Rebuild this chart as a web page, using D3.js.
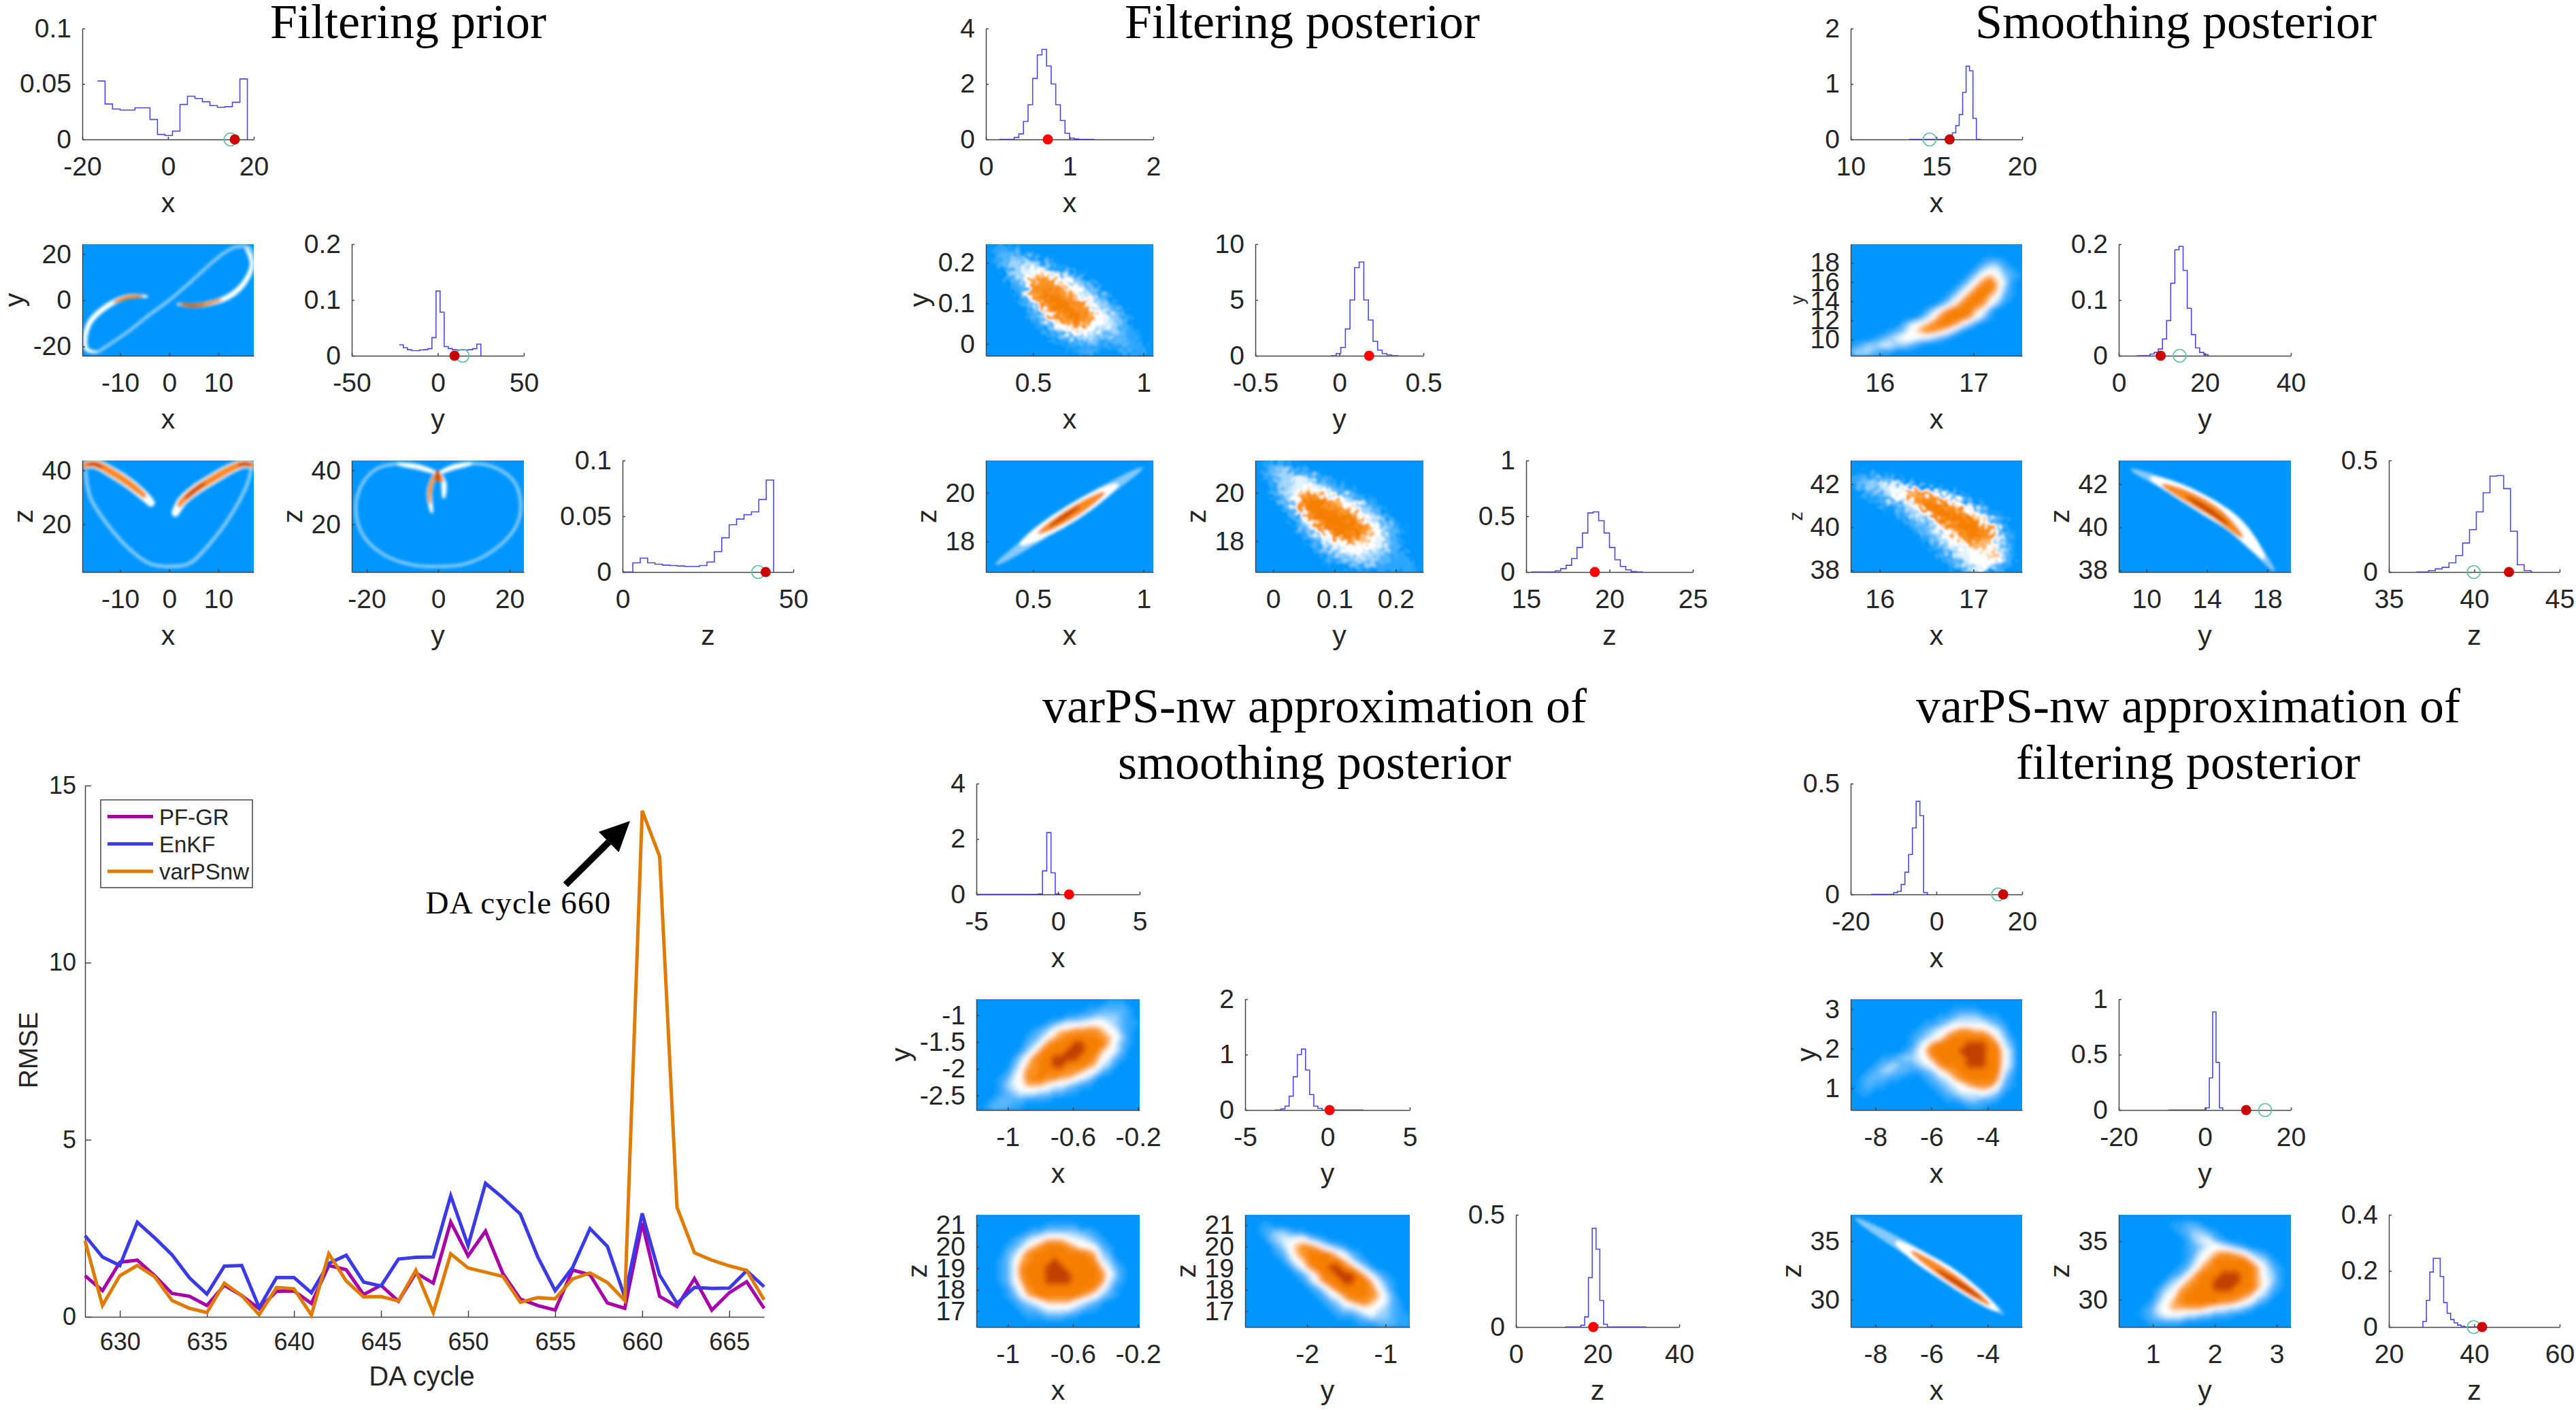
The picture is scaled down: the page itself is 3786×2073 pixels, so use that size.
<!DOCTYPE html>
<html><head><meta charset="utf-8">
<script src="https://cdn.jsdelivr.net/npm/d3@7"></script>
<style>html,body{margin:0;padding:0;background:#fff}svg{display:block}</style>
</head><body><svg id="chart" width="3786" height="2073"></svg>
<script>
// ---------- RMSE line chart ----------
const cycles = d3.range(628, 668);
const rmsePF = [1.16,.74,1.54,1.60,1.16,.66,.58,.32,.89,.60,.23,.72,.73,.38,1.45,1.33,.63,.89,.44,1.24,.95,2.68,1.72,2.42,1.22,.50,.32,.19,1.32,1.19,.39,.24,2.65,.58,.29,1.08,.19,.68,.99,.24];
const rmseEnKF = [2.29,1.69,1.45,2.67,2.23,1.75,1.10,.64,1.43,1.45,.26,1.11,1.11,.68,1.51,1.74,.98,.87,1.63,1.68,1.69,3.42,2.01,3.77,3.36,2.90,1.69,.74,1.39,2.49,1.99,.56,2.92,1.18,.38,.83,.80,.81,1.30,.85];
const rmseVar = [2.15,.32,1.16,1.45,1.13,.46,.24,.12,.95,.60,.06,.83,.79,.05,1.78,1.01,.56,.57,.45,1.31,.12,1.78,1.38,1.26,1.14,.41,.54,.51,1.07,1.24,.97,.46,14.29,13.0,3.09,1.81,1.60,1.44,1.31,.48];
const seriesNames = ["PF-GR","EnKF","varPSnw"];
const rmseTicksX = [630,635,640,645,650,655,660,665];
const rmseTicksY = [0,5,10,15];
const arrowFrom = [655.6,12.2], arrowTo = [659.3,14.0];

// ---------- histogram bin heights ----------
const hPriorX = [.0527,.032,.0275,.0265,.0265,.0285,.0285,.018,.0045,.0035,.0075,.0315,.039,.037,.034,.0305,.029,.0295,.0335,.0545];
const hPriorY = [.0195,.0143,.0108,.0091,.0091,.0104,.0108,.0126,.0325,.116,.078,.0165,.013,.0108,.0104,.0104,.0104,.0108,.0126,.0208];
const hPriorZ = [.0082,.0125,.0082,.007,.0062,.0058,.0054,.005,.005,.0058,.009,.0183,.0307,.0424,.0475,.0514,.054,.065,.0825];
const hFiltX = [.07,.2,.65,1.25,2.2,3.05,3.25,2.65,2.0,1.25,.68,.22,.05,.02];
const hFiltY = [.2,.75,2.4,5.0,7.9,8.4,5.0,3.2,1.3,.5,.2,.08];
const hFiltZ = [.01,.03,.06,.12,.22,.35,.53,.54,.46,.35,.22,.11,.05,.02,.005];
const hSmoothX = [.08,.12,.25,.45,.85,1.32,1.24,.38];
const hSmoothY = [.003,.006,.012,.03,.063,.13,.19,.196,.153,.085,.038,.014,.006,.002];
const hSmoothZ = [.006,.014,.021,.041,.074,.13,.19,.27,.355,.43,.432,.374,.183,.033,.006];
const hVarSmX = [.02,.85,2.23,.78,.02];
const hVarSmY = [.02,.07,.25,.6,1.0,1.1,.72,.28,.07,.03];
const hVarSmZ = [.008,.045,.22,.44,.347,.118,.012];
const hVarFiX = [.008,.014,.045,.1,.18,.3,.42,.355,.008];
const hVarFiY = [.02,.29,.885,.43,.02];
const hVarFiZ = [.02,.095,.196,.245,.245,.18,.087,.049,.027,.015,.007,.003];

// ---------- 2-D density (0 = none … 9 = highest) ----------
const gFiltXY = ["011100000000000000000000","012221100000000000000000","012333321100000000000000","001334443211000000000000","000234566543210000000000","000123677765432100000000","000012778776543210000000","000012678887654321000000","000001367888776432100000","000000236788877543210000","000000123677887654321000","000000012356777544321000","000000001234554433321100","000000000112333322221100","000000000001112211122110","000000000000011100011110"];
const gFiltYZ = ["012210000000000000000000","012332110000000000000000","012334432110000000000000","001334454321100000000000","001234665543211000000000","000234788766432110000000","000123788877654321000000","000012678888776432100000","000001357888887543210000","000000236788888764321000","000000123568888765321000","000000012345676654421000","000000001234455544321000","000000000123344433221100","000000000011223332211110","000000000000011111111110"];
const gSmoothXY = ["000000000000000000000000","000000000000000000000000","000000000000000000122100","000000000000000001344210","000000000000000013565321","000000000000000135786410","000000000000001357886310","000000000000013578865210","000000000000135788753100","000000000013578886520000","000000000135788875310000","000000024567887531000000","000001235677653100000000","000123455443210000000000","123344332100000000000000","333211000000000000000000"];
const gSmoothXZ = ["000000000000000000000000","000000000000000000000000","122221100000000000000000","123344432100000000000000","012234567654321000000000","001123446787654210000000","000011234688876542100000","000000123458888765310000","000000012334788887532100","000000001223567888763100","000000000123456788875210","000000000012345677664210","000000000001234456654310","000000000000123445566310","000000000000012345554210","000000000000001234432100"];
const gVarSmXY = ["000000000000000000011100","000000000000000011222210","000000000000011223333210","000000000012344455543211","000000001235667777654210","000000012356788888765310","000000023578889988864210","000000135788899988654200","000001357889999887542100","000002467889988876431000","000013577888877654210000","000124578877665431000000","000134566654432110000000","000123444332211000000000","001222211110000000000000","012221100000000000000000"];
const gVarSmXZ = ["000000000000000000000000","000000000011111000000000","000000012233333221000000","000001234566654432100000","000012356788876554210000","000023578888888876320000","000124678889888887431000","000124788899988888642100","000124788899998888753100","000124688899998888742100","000013578888888887531000","000012467888888765321000","000001234566665432100000","000000122344443211000000","000000011122211000000000","000000000000000000000000"];
const gVarSmYZ = ["000000000000000000000000","001100000000000000000000","001233211000000000000000","000234455321000000000000","000023567764321000000000","000012467888754210000000","000001356888886421000000","000000135788998753100000","000000012468899986421000","000000001357889988642100","000000000124688888753100","000000000012457888764200","000000000001235677654210","000000000000123345543210","000000000000011123433211","000000000000000011122211"];
const gVarFiXY = ["000000000000000000000000","000000000000001111000000","000000000000112333211000","000000000011234444432100","000000000123456776654200","000000001234578888875310","000000001357888899987420","000000012468888999988530","000011233457888899988530","000123322345788899988530","001233221123567888888420","012221100012346788887310","012110000001234567775210","011000000000123444543100","000000000000011233221000","000000000000000011100000"];
const gVarFiYZ = ["000000000000000000000000","000000011221000000000000","000000001233210000000000","000000000134421000000000","000000000123454321000000","000000000124567765321000","000000000135688888643100","000000001246788888864210","000000012468889998864310","000000134678899998865310","000001346788899988864210","000002457888888887643100","000013567888887765421000","000124566666544332100000","000123444332211100000000","000011111000000000000000"];

// ---------- ridge lines of the thin densities, in axis units ----------
const rPriorXYRing = [[-14.55,-22.43],[-8.36,-13.55],[-4.02,-6.23],[0,.04],[4.02,7.36],[8.36,15.73],[11.46,20.95],[13.93,23.25],[16.41,22.52],[16.84,15.73],[15.17,7.36],[12.07,1.6],[7.74,-1.52],[4.64,-2.25],[1.55,-1.52]];
const rPriorXYLeft = [[-4.33,1.61],[-8.36,1.61],[-12.69,-2.57],[-16.1,-9.36],[-17.15,-16.68],[-16.72,-21.39],[-14.55,-22.43]];
const rPriorXYWhiteR = [[15.4,23.3],[16.84,15.73],[15.17,7.36],[12.07,1.6],[7.74,-1.52],[4.64,-2.25],[1.55,-1.52]];
const rPriorXYOrangeR = [[10.8,.6],[7.74,-1.52],[4.64,-2.25],[1.9,-1.52]];
const rPriorXYCoreR = [[7.1,-1.9],[4.64,-2.25],[2.5,-1.8]];
const rPriorXYOrangeL = [[-11.46,-1.0],[-8.36,1.4],[-5.26,1.8]];
const rPriorXZBottom = [[-17.03,39.94],[-16.1,30.08],[-12.69,20.22],[-8.36,11.26],[-4.02,5.44],[0,4.36],[4.02,5.44],[8.36,13.05],[12.69,23.81],[15.79,34.56],[16.72,40.83]];
const rPriorXZLeft = [[-17.9,41.6],[-15.17,42.36],[-11.46,39.04],[-7.74,34.56],[-4.33,29.18],[-3.2,26.8]];
const rPriorXZLeftOr = [[-18,41.6],[-15.17,42.36],[-11.46,39.04],[-7.74,34.56],[-4.7,30]];
const rPriorXZRight = [[.9,22.8],[2.48,28.29],[5.26,32.77],[8.36,36.35],[12.69,40.83],[15.17,42.45],[17.6,41.7]];
const rPriorXZRightOr = [[1.8,26.2],[2.48,28.29],[5.26,32.77],[8.36,36.35],[12.69,40.83],[15.17,42.45],[17.6,41.7]];
const rPriorXZCoreL = [[-16.7,41.9],[-15.17,42.36],[-13.6,41]];
const rPriorXZCoreR = [[3.2,29.5],[5.26,32.77],[7.4,35.4]];
const rPriorXZCoreR2 = [[14,41.8],[15.17,42.45],[16.7,41.9]];
const rPriorYZRing = [[-.34,39.04],[-5.68,41.28],[-11.6,42.45],[-17.54,40.38],[-21.78,33.66],[-23.05,24.7],[-20.93,15.74],[-15,8.57],[-7.37,4.99],[0,4.36],[7.88,5.44],[15.5,10.37],[21.44,18.43],[23.14,26.5],[21.44,35.46],[16.36,40.83],[9.58,42.62],[4.49,41.28],[1.1,39.04]];
const rPriorYZTopL = [[-11.6,42.45],[-5.68,41.28],[-.34,39.04]];
const rPriorYZTopR = [[.2,39.04],[4.49,41.28],[9.58,42.62]];
const rPriorYZLegL = [[-.1,40],[-1.86,35.46],[-2.46,30.98],[-1.69,24]];
const rPriorYZLegR = [[.3,39],[1.53,35.46],[1.53,29.5]];
const rPriorYZOrL = [[-.34,39.04],[-1.86,35.46],[-2.46,30.98],[-2.3,27.5]];
const rPriorYZOrR = [[.2,39],[1.2,35.5]];
const rPriorYZCore = [[-.2,40.2],[-.2,35.8]];
const rFiltXZHalo = [[.327,17.02],[.52,18.23],[.655,19.12],[.828,20.09],[.999,21.05]];
const rFiltXZWhite = [[.438,17.85],[.52,18.31],[.663,19.1],[.826,20.03],[.887,20.36]];
const rFiltXZOrange = [[.52,18.31],[.663,19.1],[.826,20.03]];
const rFiltXZCore = [[.571,18.6],[.714,19.47]];
const rSmoothYZHalo = [[8.9,42.7],[11.26,42],[13.92,41],[15.83,40.1],[17.16,39.1],[18.5,37.92]];
const rSmoothYZWhite = [[10.2,42.3],[11.26,42],[13.92,41],[15.83,40.1],[17.16,39.1],[17.8,38.5]];
const rSmoothYZOrange = [[11.0,42.0],[12.78,41.4],[14.69,40.6],[16.4,39.5]];
const rSmoothYZCore = [[12.6,41.45],[14.1,40.8],[15.46,40.1]];
const rVarFiXZHalo = [[-8.74,37.0],[-6.75,34.2],[-5.46,32.2],[-3.4,28.7]];
const rVarFiXZWhite = [[-7.3,35.0],[-6.55,33.8],[-5.46,32.2],[-3.6,29.0]];
const rVarFiXZOrange = [[-6.75,34.2],[-5.26,31.8],[-3.9,29.5]];
const rVarFiXZCore = [[-5.85,32.6],[-4.2,30.1]];

// ---------- truth markers ----------
const dots = {prior:[15.57,9.7,41.9],filt:[.74,.177,19.12],smooth:[15.77,9.74,42.03],varSm:[.68,.13,18.94],varFi:[15.57,9.6,41.83]};
const rings = {prior:[14.56,14.4,39.7],smooth:[14.6,14.15,39.97],varFi:[14.4,14.0,39.87]};

// ---------- text ----------
const titles = [
 {lines:["Filtering prior"],cx:600,y:[56]},
 {lines:["Filtering posterior"],cx:1914,y:[56]},
 {lines:["Smoothing posterior"],cx:3198,y:[56]},
 {lines:["varPS-nw approximation of","smoothing posterior"],cx:1932,y:[1062,1145]},
 {lines:["varPS-nw approximation of","filtering posterior"],cx:3216,y:[1062,1145]}];

// ---------- layout ----------
const rowsTop = [[42,205],[359,523],[677,841]], rowsLow = [[1152,1315],[1469,1632],[1786,1951]];
const colsA = [[121,373],[517,770],[915,1166]], colsB = [[1449,1695],[1845,2092],[2243,2488]];
const colsC = [[2720,2972],[3114,3367],[3511,3762]], colsD = [[1435,1675],[1830,2072],[2228,2468]];

const svg = d3.select("#chart");
const defs = svg.append("defs");
function blurF(id,sd){ defs.append("filter").attr("id",id).attr("x","-20%").attr("y","-20%").attr("width","140%").attr("height","140%")
  .append("feGaussianBlur").attr("stdDeviation",sd); }
blurF("soft",3.0); blurF("thin",1.9);
const sp = defs.append("filter").attr("id","speckle").attr("x","-20%").attr("y","-20%").attr("width","140%").attr("height","140%");
sp.append("feTurbulence").attr("type","fractalNoise").attr("baseFrequency",.14).attr("numOctaves",1).attr("seed",7).attr("result","n");
sp.append("feDisplacementMap").attr("in","SourceGraphic").attr("in2","n").attr("scale",30).attr("xChannelSelector","R").attr("yChannelSelector","G").attr("result","d");
sp.append("feGaussianBlur").attr("in","d").attr("stdDeviation",1.7);

const ink = "#262626", axisInk = "#444";
const heat = d3.scaleLinear().domain([0,2,4.4,5.1,5.7,6.5,8,9]).range(["#0096ff","#58b6ff","#ffffff","#ffffff","#ffc88f","#fb9a2e","#f57f06","#c23f00"]);
const ridgeColor = {faint:"#8fceff",halo:"#86c9ff",white:"#ffffff",orange:"#f88a12",core:"#cf4e00"};
let clipId = 0;

function axes(g,x,y,xt,yt,opt){
  opt = opt||{};
  const tick = opt.tick||4, padX = opt.padX||25, padY = opt.padY||16, fs = opt.fs||39;
  const ax = g.append("g").attr("transform",`translate(0,${y.range()[0]})`)
    .call(d3.axisBottom(x).tickValues(xt).tickFormat(d=>String(d)).tickSizeInner(-tick).tickSizeOuter(0).tickPadding(padX));
  const ay = g.append("g").attr("transform",`translate(${x.range()[0]},0)`)
    .call(d3.axisLeft(y).tickValues(yt).tickFormat(d=>String(d)).tickSizeInner(-tick).tickSizeOuter(0).tickPadding(padY));
  [ax,ay].forEach(a=>{
    a.attr("font-family","'Liberation Sans'").attr("font-size",fs);
    a.selectAll("path,line").attr("stroke",axisInk).attr("stroke-width",1.5);
    a.selectAll("text").attr("fill",ink);
  });
}
function labels(g,x,y,xl,yl,yt,opt){
  opt = opt||{};
  const mx = (x.range()[0]+x.range()[1])/2;
  g.append("text").attr("x",mx).attr("y",y.range()[0]+107).attr("text-anchor","middle")
    .attr("font-family","'Liberation Sans'").attr("font-size",41).attr("fill",ink).text(xl);
  if(!yl) return;
  const wide = d3.max(yt,d=>String(d).replace(/[0-9]/g,"#").split("").reduce((s,c)=>s+(c==="#"?.556:c==="."?.278:.333),0))*39;
  const lx = x.range()[0]-(opt.yOff||(16+wide+26));
  const my = (y.range()[0]+y.range()[1])/2;
  g.append("text").attr("transform",`translate(${lx},${my}) rotate(-90)`).attr("dy",".3em").attr("text-anchor","middle")
    .attr("font-family","'Liberation Sans'").attr("font-size",opt.yFs||41).attr("fill",ink).text(yl);
}
function hist(col,row,p){
  const x = d3.scaleLinear().domain(p.xd).range(col), y = d3.scaleLinear().domain(p.yd).range([row[1],row[0]]);
  const g = svg.append("g");
  const pts = [], hi = p.lo+p.w*p.v.length;
  if(p.sup) pts.push([p.sup[0],0],[p.lo,0]);
  p.v.forEach((v,i)=>{pts.push([p.lo+i*p.w,v],[p.lo+(i+1)*p.w,v]);});
  pts.push([hi,0]);
  if(p.sup) pts.push([p.sup[1],0]);
  g.append("path").attr("d",d3.line().x(d=>x(d[0])).y(d=>y(d[1]))(pts)).attr("fill","none").attr("stroke","#4a4af0").attr("stroke-width",1.6);
  axes(g,x,y,p.xt,p.yt);
  if(p.ring!=null) g.append("circle").attr("cx",x(p.ring)).attr("cy",y(0)).attr("r",9.5).attr("fill","none").attr("stroke","#5cc0a0").attr("stroke-width",1.7);
  g.append("circle").attr("cx",x(p.dot)).attr("cy",y(0)).attr("r",7.5).attr("fill",p.ring!=null?"#cc0000":"#ff0000");
  labels(g,x,y,p.xl,null,p.yt);
}
function panelBase(col,row,p){
  const x = d3.scaleLinear().domain(p.xd).range(col), y = d3.scaleLinear().domain(p.yd).range([row[1],row[0]]);
  const g = svg.append("g"), id = "c"+(clipId++);
  defs.append("clipPath").attr("id",id).append("rect").attr("x",col[0]).attr("y",row[0]).attr("width",col[1]-col[0]).attr("height",row[1]-row[0]);
  const inner = g.append("g").attr("clip-path",`url(#${id})`);
  inner.append("rect").attr("x",col[0]).attr("y",row[0]).attr("width",col[1]-col[0]).attr("height",row[1]-row[0]).attr("fill","#0096ff");
  return {x,y,g,inner};
}
function gridPanel(col,row,p){
  const {x,y,g,inner} = panelBase(col,row,p);
  const m = p.grid.length, n = p.grid[0].length;
  const vals = p.grid.join("").split("").map(Number);
  const gx = d3.scaleLinear().domain([0,n]).range(p.xd), gy = d3.scaleLinear().domain([0,m]).range([p.yd[1],p.yd[0]]);
  const proj = d3.geoTransform({point(a,b){this.stream.point(x(gx(a)),y(gy(b)));}});
  const path = d3.geoPath(proj);
  const cs = d3.contours().size([n,m]).smooth(true).thresholds(d3.range(.25,9.01,.25))(vals);
  inner.append("g").attr("filter",p.speckle?"url(#speckle)":"url(#soft)").selectAll("path").data(cs).join("path")
    .attr("d",path).attr("fill",d=>heat(d.value));
  axes(g,x,y,p.xt,p.yt);
  labels(g,x,y,p.xl,p.yl,p.yt,p);
}
// a band drawn along a ridge line; taper sets how quickly it narrows towards its two ends
function lens(pts,x,y,width,holder,taper){
  const d = d3.line().x(q=>x(q[0])).y(q=>y(q[1])).curve(d3.curveCatmullRom.alpha(.5))(pts);
  const probe = holder.append("path").attr("d",d).attr("fill","none").attr("stroke","none");
  const node = probe.node(), L = node.getTotalLength(), N = 48, left = [], right = [];
  d3.range(N+1).forEach(i=>{
    const t = i/N, s = t*L, a = node.getPointAtLength(Math.max(0,s-1)), b = node.getPointAtLength(Math.min(L,s+1)), c = node.getPointAtLength(s);
    const len = Math.hypot(b.x-a.x,b.y-a.y)||1, nx = -(b.y-a.y)/len, ny = (b.x-a.x)/len;
    const hw = width/2*Math.pow(Math.sin(Math.PI*t),taper);
    left.push([c.x+nx*hw,c.y+ny*hw]); right.push([c.x-nx*hw,c.y-ny*hw]);
  });
  probe.remove();
  return d3.line()(left.concat(right.reverse()))+"Z";
}
function ridgePanel(col,row,p){
  const {x,y,g,inner} = panelBase(col,row,p);
  const line = d3.line().x(d=>x(d[0])).y(d=>y(d[1])).curve(d3.curveCatmullRom.alpha(.5));
  const layer = inner.append("g").attr("filter","url(#thin)");
  p.layers.forEach(l=>{
    if(l[0]==="faint") layer.append("path").attr("d",line(l[1])).attr("fill","none").attr("stroke",ridgeColor.faint).attr("stroke-width",p.widths.faint);
    else layer.append("path").attr("d",lens(l[1],x,y,p.widths[l[0]],layer,p.taper||.5)).attr("fill",ridgeColor[l[0]]);
  });
  axes(g,x,y,p.xt,p.yt);
  labels(g,x,y,p.xl,p.yl,p.yt,p);
}

// ---------- Filtering prior ----------
hist(colsA[0],rowsTop[0],{v:hPriorX,lo:-16.45,w:1.7475,xd:[-20,20],yd:[0,.1],xt:[-20,0,20],yt:[0,.05,.1],dot:dots.prior[0],ring:rings.prior[0],xl:"x"});
hist(colsA[1],rowsTop[1],{v:hPriorY,lo:-22.4,w:2.37,xd:[-50,50],yd:[0,.2],xt:[-50,0,50],yt:[0,.1,.2],dot:dots.prior[1],ring:rings.prior[1],xl:"y"});
hist(colsA[2],rowsTop[2],{v:hPriorZ,lo:3,w:2.17,sup:[0,44.2],xd:[0,50],yd:[0,.1],xt:[0,50],yt:[0,.05,.1],dot:dots.prior[2],ring:rings.prior[2],xl:"z"});
const wPrior = {faint:4.5,white:8,orange:6,core:4};
ridgePanel(colsA[0],rowsTop[1],{taper:.3,xd:[-17.7,17.2],yd:[-24,24.3],xt:[-10,0,10],yt:[-20,0,20],xl:"x",yl:"y",widths:wPrior,
  layers:[["faint",rPriorXYRing],["faint",rPriorXYLeft],["white",rPriorXYWhiteR],["white",rPriorXYLeft],["orange",rPriorXYOrangeR],["orange",rPriorXYOrangeL],["core",rPriorXYCoreR]]});
ridgePanel(colsA[0],rowsTop[2],{taper:.18,xd:[-17.7,17.2],yd:[2.3,43.7],xt:[-10,0,10],yt:[20,40],xl:"x",yl:"z",widths:{faint:5,white:16,orange:11,core:6},
  layers:[["faint",rPriorXZBottom],["white",rPriorXZLeft],["white",rPriorXZRight],["orange",rPriorXZLeftOr],["orange",rPriorXZRightOr],["core",rPriorXZCoreL],["core",rPriorXZCoreR],["core",rPriorXZCoreR2]]});
ridgePanel(colsA[1],rowsTop[2],{taper:.3,xd:[-24.2,24],yd:[2.3,43.7],xt:[-20,0,20],yt:[20,40],xl:"y",yl:"z",widths:{faint:4.5,white:8,orange:6,core:8},
  layers:[["faint",rPriorYZRing],["white",rPriorYZTopL],["white",rPriorYZTopR],["white",rPriorYZLegL],["white",rPriorYZLegR],["orange",rPriorYZOrL],["orange",rPriorYZOrR],["core",rPriorYZCore]]});

// ---------- Filtering posterior ----------
hist(colsB[0],rowsTop[0],{v:hFiltX,lo:.338,w:.0552,sup:[.16,1.3],xd:[0,2],yd:[0,4],xt:[0,1,2],yt:[0,2,4],dot:dots.filt[0],xl:"x"});
hist(colsB[1],rowsTop[1],{v:hFiltY,lo:-.019,w:.0274,sup:[-.05,.35],xd:[-.5,.5],yd:[0,10],xt:[-.5,0,.5],yt:[0,5,10],dot:dots.filt[1],xl:"y"});
hist(colsB[2],rowsTop[2],{v:hFiltZ,lo:16.75,w:.325,sup:[15.3,22],xd:[15,25],yd:[0,1],xt:[15,20,25],yt:[0,.5,1],dot:dots.filt[2],xl:"z"});
gridPanel(colsB[0],rowsTop[1],{grid:gFiltXY,speckle:true,xd:[.286,1.044],yd:[-.029,.2457],xt:[.5,1],yt:[0,.1,.2],xl:"x",yl:"y"});
ridgePanel(colsB[0],rowsTop[2],{xd:[.286,1.044],yd:[16.74,21.33],xt:[.5,1],yt:[18,20],xl:"x",yl:"z",widths:{halo:20,white:25,orange:16,core:7},
  layers:[["halo",rFiltXZHalo],["white",rFiltXZWhite],["orange",rFiltXZOrange],["core",rFiltXZCore]]});
gridPanel(colsB[1],rowsTop[2],{grid:gFiltYZ,speckle:true,xd:[-.029,.245],yd:[16.74,21.33],xt:[0,.1,.2],yt:[18,20],xl:"y",yl:"z"});

// ---------- Smoothing posterior ----------
hist(colsC[0],rowsTop[0],{v:hSmoothX,lo:15.73,w:.2,sup:[13.4,17.6],xd:[10,20],yd:[0,2],xt:[10,15,20],yt:[0,1,2],dot:dots.smooth[0],ring:rings.smooth[0],xl:"x"});
hist(colsC[1],rowsTop[1],{v:hSmoothY,lo:7.27,w:.96,sup:[4.2,21],xd:[0,40],yd:[0,.2],xt:[0,20,40],yt:[0,.1,.2],dot:dots.smooth[1],ring:rings.smooth[1],xl:"y"});
hist(colsC[2],rowsTop[2],{v:hSmoothZ,lo:37.32,w:.4,sup:[36.6,43.4],xd:[35,45],yd:[0,.5],xt:[35,40,45],yt:[0,.5],dot:dots.smooth[2],ring:rings.smooth[2],xl:"z"});
gridPanel(colsC[0],rowsTop[1],{grid:gSmoothXY,xd:[15.69,17.52],yd:[8.33,19.94],xt:[16,17],yt:[10,12,14,16,18],xl:"x",yl:"y",yFs:27,yOff:77});
gridPanel(colsC[0],rowsTop[2],{grid:gSmoothXZ,speckle:true,xd:[15.69,17.52],yd:[37.92,43.1],xt:[16,17],yt:[38,40,42],xl:"x",yl:"z",yFs:27,yOff:79});
ridgePanel(colsC[1],rowsTop[2],{xd:[8.17,19.55],yd:[37.92,43.1],xt:[10,14,18],yt:[38,40,42],xl:"y",yl:"z",widths:{halo:20,white:27,orange:18,core:8},
  layers:[["halo",rSmoothYZHalo],["white",rSmoothYZWhite],["orange",rSmoothYZOrange],["core",rSmoothYZCore]]});

// ---------- varPS-nw, smoothing ----------
hist(colsD[0],rowsLow[0],{v:hVarSmX,lo:-1.21,w:.26,sup:[-5,.1],xd:[-5,5],yd:[0,4],xt:[-5,0,5],yt:[0,2,4],dot:dots.varSm[0],xl:"x"});
hist(colsD[1],rowsLow[1],{v:hVarSmY,lo:-2.83,w:.25,sup:[-3.2,2.2],xd:[-5,5],yd:[0,2],xt:[-5,0,5],yt:[0,1,2],dot:dots.varSm[1],xl:"y"});
hist(colsD[2],rowsLow[2],{v:hVarSmZ,lo:15.9,w:.93,sup:[12,32],xd:[0,40],yd:[0,.5],xt:[0,20,40],yt:[0,.5],dot:dots.varSm[2],xl:"z"});
gridPanel(colsD[0],rowsLow[1],{grid:gVarSmXY,xd:[-1.193,-.19],yd:[-2.77,-.70],xt:[-1,-.6,-.2],yt:[-2.5,-2,-1.5,-1],xl:"x",yl:"y"});
gridPanel(colsD[0],rowsLow[2],{grid:gVarSmXZ,xd:[-1.193,-.19],yd:[16.27,21.48],xt:[-1,-.6,-.2],yt:[17,18,19,20,21],xl:"x",yl:"z"});
gridPanel(colsD[1],rowsLow[2],{grid:gVarSmYZ,xd:[-2.79,-.69],yd:[16.27,21.48],xt:[-2,-1],yt:[17,18,19,20,21],xl:"y",yl:"z"});

// ---------- varPS-nw, filtering ----------
hist(colsC[0],rowsLow[0],{v:hVarFiX,lo:-9.97,w:.873,sup:[-15.2,-2],xd:[-20,20],yd:[0,.5],xt:[-20,0,20],yt:[0,.5],dot:dots.varFi[0],ring:rings.varFi[0],xl:"x"});
hist(colsC[1],rowsLow[1],{v:hVarFiY,lo:.26,w:.78,sup:[-8.5,4.2],xd:[-20,20],yd:[0,1],xt:[-20,0,20],yt:[0,.5,1],dot:dots.varFi[1],ring:rings.varFi[1],xl:"y"});
hist(colsC[2],rowsLow[2],{v:hVarFiZ,lo:27.97,w:.81,sup:[27.9,42],xd:[20,60],yd:[0,.4],xt:[20,40,60],yt:[0,.2,.4],dot:dots.varFi[2],ring:rings.varFi[2],xl:"z"});
gridPanel(colsC[0],rowsLow[1],{grid:gVarFiXY,xd:[-8.88,-2.77],yd:[.45,3.25],xt:[-8,-6,-4],yt:[1,2,3],xl:"x",yl:"y"});
ridgePanel(colsC[0],rowsLow[2],{xd:[-8.88,-2.77],yd:[27.64,37.28],xt:[-8,-6,-4],yt:[30,35],xl:"x",yl:"z",widths:{halo:19,white:24,orange:15,core:8},
  layers:[["halo",rVarFiXZHalo],["white",rVarFiXZWhite],["orange",rVarFiXZOrange],["core",rVarFiXZCore]]});
gridPanel(colsC[1],rowsLow[2],{grid:gVarFiYZ,xd:[.45,3.23],yd:[27.64,37.28],xt:[1,2,3],yt:[30,35],xl:"y",yl:"z"});

// ---------- titles ----------
titles.forEach(t=>t.lines.forEach((s,i)=>{
  svg.append("text").attr("x",t.cx).attr("y",t.y[i]).attr("text-anchor","middle")
    .attr("font-family","'Liberation Serif'").attr("font-size",72).attr("fill","#000").text(s);
}));

// ---------- RMSE chart ----------
(function(){
  const x = d3.scaleLinear().domain([628,667]).range([125,1123]);
  const y = d3.scaleLinear().domain([0,15]).range([1936,1155]);
  const g = svg.append("g");
  const colors = ["#a800a8","#3a3aea","#e07b00"];
  const series = [rmsePF,rmseEnKF,rmseVar];
  const line = d3.line().x((d,i)=>x(cycles[i])).y(d=>y(d));
  axes(g,x,y,rmseTicksX,rmseTicksY,{tick:9,padX:23,padY:13,fs:36});
  series.forEach((s,i)=>g.append("path").attr("d",line(s)).attr("fill","none").attr("stroke",colors[i]).attr("stroke-width",5).attr("stroke-linejoin","miter"));
  g.append("text").attr("x",620).attr("y",2037).attr("text-anchor","middle").attr("font-family","'Liberation Sans'").attr("font-size",40).attr("fill",ink).text("DA cycle");
  g.append("text").attr("transform","translate(41,1544) rotate(-90)").attr("dy",".35em").attr("text-anchor","middle").attr("font-family","'Liberation Sans'").attr("font-size",39).attr("fill",ink).text("RMSE");
  const lg = g.append("g");
  lg.append("rect").attr("x",148).attr("y",1176).attr("width",223).attr("height",129).attr("fill","#fff").attr("stroke",axisInk).attr("stroke-width",1.5);
  seriesNames.forEach((n,i)=>{
    const ly = 1200.5+40.2*i;
    lg.append("line").attr("x1",158).attr("x2",225).attr("y1",ly).attr("y2",ly).attr("stroke",colors[i]).attr("stroke-width",5);
    lg.append("text").attr("x",234).attr("y",ly+12).attr("font-family","'Liberation Sans'").attr("font-size",33).attr("fill",ink).text(n);
  });
  const a = [x(arrowFrom[0]),y(arrowFrom[1])], b = [x(arrowTo[0]),y(arrowTo[1])];
  const L = Math.hypot(b[0]-a[0],b[1]-a[1]), u = [(b[0]-a[0])/L,(b[1]-a[1])/L], n = [-u[1],u[0]];
  const hl = 44, hw = 21, base = [b[0]-u[0]*hl,b[1]-u[1]*hl];
  g.append("line").attr("x1",a[0]).attr("y1",a[1]).attr("x2",base[0]).attr("y2",base[1]).attr("stroke","#000").attr("stroke-width",10);
  g.append("polygon").attr("points",[b,[base[0]+n[0]*hw,base[1]+n[1]*hw],[base[0]-n[0]*hw,base[1]-n[1]*hw]].map(p=>p.join(",")).join(" ")).attr("fill","#000");
  g.append("text").attr("x",762).attr("y",1343).attr("text-anchor","middle").attr("font-family","'Liberation Serif'").attr("font-size",47).attr("letter-spacing",1.2).attr("fill","#000").text("DA cycle 660");
})();
</script></body></html>
